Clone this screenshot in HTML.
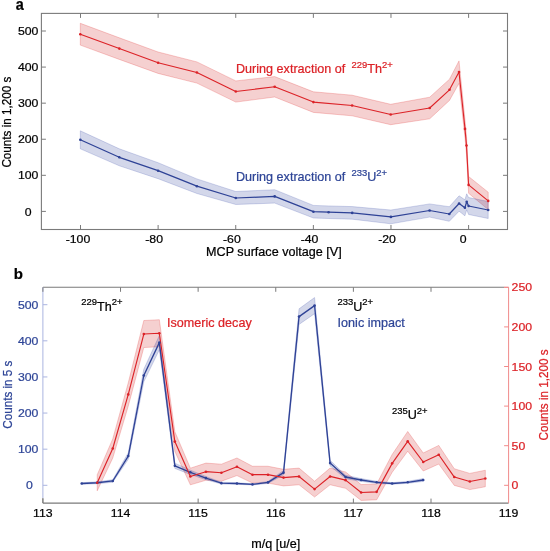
<!DOCTYPE html>
<html><head><meta charset="utf-8"><style>
html,body{margin:0;padding:0;background:#fff;}
body{width:550px;height:551px;overflow:hidden;}
svg{display:block;font-family:"Liberation Sans",sans-serif;filter:blur(0.3px);}
</style></head><body>
<svg width="550" height="551" viewBox="0 0 550 551">
<rect width="550" height="551" fill="#fff"/>
<polygon points="80.30,23.30 119.30,37.80 158.10,52.00 196.90,61.90 235.80,80.90 274.70,76.60 313.40,91.80 352.10,95.20 390.70,104.30 429.70,97.20 449.50,79.20 459.00,60.90 465.00,119.90 466.50,136.50 468.60,176.50 488.20,192.20 488.20,209.60 468.60,193.30 466.50,154.50 465.00,137.90 459.00,83.30 449.50,100.40 429.70,118.80 390.70,124.70 352.10,115.80 313.40,112.40 274.70,97.00 235.80,102.10 196.90,83.10 158.10,73.40 119.30,59.40 80.30,45.10" fill="rgba(210,41,41,0.22)" stroke="rgba(225,30,30,0.38)" stroke-width="0.6"/>
<polygon points="80.30,130.80 119.30,148.80 158.10,162.70 196.90,178.90 235.80,191.50 274.70,189.70 313.40,205.40 328.60,205.90 352.20,206.60 390.90,210.00 429.60,203.90 449.30,206.70 459.10,195.80 464.90,199.80 466.70,193.80 468.60,197.50 488.20,201.50 488.20,218.50 468.60,214.50 466.70,209.80 464.90,215.80 459.10,211.20 449.30,221.30 429.60,217.10 390.90,223.80 352.20,219.20 328.60,218.50 313.40,218.00 274.70,203.10 235.80,204.50 196.90,193.50 158.10,178.70 119.30,165.80 80.30,148.80" fill="rgba(35,55,150,0.2)" stroke="rgba(35,55,160,0.32)" stroke-width="0.6"/>
<polyline points="80.30,34.20 119.30,48.60 158.10,62.70 196.90,72.50 235.80,91.50 274.70,86.80 313.40,102.10 352.10,105.50 390.70,114.50 429.70,108.00 449.50,89.80 459.00,72.10 465.00,128.90 466.50,145.50 468.60,184.90 488.20,200.90" fill="none" stroke="#dc2227" stroke-width="1.1" stroke-linejoin="round"/>
<polyline points="80.30,139.80 119.30,157.30 158.10,170.70 196.90,186.20 235.80,198.00 274.70,196.40 313.40,211.70 328.60,212.20 352.20,212.90 390.90,216.90 429.60,210.50 449.30,214.00 459.10,203.50 464.90,207.80 466.70,201.80 468.60,206.00 488.20,210.00" fill="none" stroke="#2e4296" stroke-width="1.25" stroke-linejoin="round"/>
<circle cx="80.30" cy="34.20" r="1.3" fill="#dc2227"/>
<circle cx="119.30" cy="48.60" r="1.3" fill="#dc2227"/>
<circle cx="158.10" cy="62.70" r="1.3" fill="#dc2227"/>
<circle cx="196.90" cy="72.50" r="1.3" fill="#dc2227"/>
<circle cx="235.80" cy="91.50" r="1.3" fill="#dc2227"/>
<circle cx="274.70" cy="86.80" r="1.3" fill="#dc2227"/>
<circle cx="313.40" cy="102.10" r="1.3" fill="#dc2227"/>
<circle cx="352.10" cy="105.50" r="1.3" fill="#dc2227"/>
<circle cx="390.70" cy="114.50" r="1.3" fill="#dc2227"/>
<circle cx="429.70" cy="108.00" r="1.3" fill="#dc2227"/>
<circle cx="449.50" cy="89.80" r="1.3" fill="#dc2227"/>
<circle cx="459.00" cy="72.10" r="1.3" fill="#dc2227"/>
<circle cx="465.00" cy="128.90" r="1.3" fill="#dc2227"/>
<circle cx="466.50" cy="145.50" r="1.3" fill="#dc2227"/>
<circle cx="468.60" cy="184.90" r="1.3" fill="#dc2227"/>
<circle cx="488.20" cy="200.90" r="1.3" fill="#dc2227"/>
<circle cx="80.30" cy="139.80" r="1.3" fill="#2e4296"/>
<circle cx="119.30" cy="157.30" r="1.3" fill="#2e4296"/>
<circle cx="158.10" cy="170.70" r="1.3" fill="#2e4296"/>
<circle cx="196.90" cy="186.20" r="1.3" fill="#2e4296"/>
<circle cx="235.80" cy="198.00" r="1.3" fill="#2e4296"/>
<circle cx="274.70" cy="196.40" r="1.3" fill="#2e4296"/>
<circle cx="313.40" cy="211.70" r="1.3" fill="#2e4296"/>
<circle cx="328.60" cy="212.20" r="1.3" fill="#2e4296"/>
<circle cx="352.20" cy="212.90" r="1.3" fill="#2e4296"/>
<circle cx="390.90" cy="216.90" r="1.3" fill="#2e4296"/>
<circle cx="429.60" cy="210.50" r="1.3" fill="#2e4296"/>
<circle cx="449.30" cy="214.00" r="1.3" fill="#2e4296"/>
<circle cx="459.10" cy="203.50" r="1.3" fill="#2e4296"/>
<circle cx="464.90" cy="207.80" r="1.3" fill="#2e4296"/>
<circle cx="466.70" cy="201.80" r="1.3" fill="#2e4296"/>
<circle cx="468.60" cy="206.00" r="1.3" fill="#2e4296"/>
<circle cx="488.20" cy="210.00" r="1.3" fill="#2e4296"/>
<rect x="41.4" y="13.4" width="466.1" height="216.1" fill="none" stroke="#7a7a7a" stroke-width="1.1"/>
<line x1="80.50" y1="229.50" x2="80.50" y2="225.00" stroke="#7a7a7a" stroke-width="1"/>
<line x1="80.50" y1="13.40" x2="80.50" y2="17.90" stroke="#7a7a7a" stroke-width="1"/>
<line x1="158.12" y1="229.50" x2="158.12" y2="225.00" stroke="#7a7a7a" stroke-width="1"/>
<line x1="158.12" y1="13.40" x2="158.12" y2="17.90" stroke="#7a7a7a" stroke-width="1"/>
<line x1="235.74" y1="229.50" x2="235.74" y2="225.00" stroke="#7a7a7a" stroke-width="1"/>
<line x1="235.74" y1="13.40" x2="235.74" y2="17.90" stroke="#7a7a7a" stroke-width="1"/>
<line x1="313.36" y1="229.50" x2="313.36" y2="225.00" stroke="#7a7a7a" stroke-width="1"/>
<line x1="313.36" y1="13.40" x2="313.36" y2="17.90" stroke="#7a7a7a" stroke-width="1"/>
<line x1="390.98" y1="229.50" x2="390.98" y2="225.00" stroke="#7a7a7a" stroke-width="1"/>
<line x1="390.98" y1="13.40" x2="390.98" y2="17.90" stroke="#7a7a7a" stroke-width="1"/>
<line x1="468.60" y1="229.50" x2="468.60" y2="225.00" stroke="#7a7a7a" stroke-width="1"/>
<line x1="468.60" y1="13.40" x2="468.60" y2="17.90" stroke="#7a7a7a" stroke-width="1"/>
<line x1="41.40" y1="211.40" x2="45.90" y2="211.40" stroke="#7a7a7a" stroke-width="1"/>
<line x1="507.50" y1="211.40" x2="503.00" y2="211.40" stroke="#7a7a7a" stroke-width="1"/>
<line x1="41.40" y1="175.32" x2="45.90" y2="175.32" stroke="#7a7a7a" stroke-width="1"/>
<line x1="507.50" y1="175.32" x2="503.00" y2="175.32" stroke="#7a7a7a" stroke-width="1"/>
<line x1="41.40" y1="139.24" x2="45.90" y2="139.24" stroke="#7a7a7a" stroke-width="1"/>
<line x1="507.50" y1="139.24" x2="503.00" y2="139.24" stroke="#7a7a7a" stroke-width="1"/>
<line x1="41.40" y1="103.16" x2="45.90" y2="103.16" stroke="#7a7a7a" stroke-width="1"/>
<line x1="507.50" y1="103.16" x2="503.00" y2="103.16" stroke="#7a7a7a" stroke-width="1"/>
<line x1="41.40" y1="67.08" x2="45.90" y2="67.08" stroke="#7a7a7a" stroke-width="1"/>
<line x1="507.50" y1="67.08" x2="503.00" y2="67.08" stroke="#7a7a7a" stroke-width="1"/>
<line x1="41.40" y1="31.00" x2="45.90" y2="31.00" stroke="#7a7a7a" stroke-width="1"/>
<line x1="507.50" y1="31.00" x2="503.00" y2="31.00" stroke="#7a7a7a" stroke-width="1"/>
<text transform="translate(78.00,243.00) scale(1.05,1)" font-size="11.7" fill="#000" stroke="#000" stroke-width="0.22" text-anchor="middle" font-weight="normal">-100</text>
<text transform="translate(154.10,243.00) scale(1.05,1)" font-size="11.7" fill="#000" stroke="#000" stroke-width="0.22" text-anchor="middle" font-weight="normal">-80</text>
<text transform="translate(231.90,243.00) scale(1.05,1)" font-size="11.7" fill="#000" stroke="#000" stroke-width="0.22" text-anchor="middle" font-weight="normal">-60</text>
<text transform="translate(309.50,243.00) scale(1.05,1)" font-size="11.7" fill="#000" stroke="#000" stroke-width="0.22" text-anchor="middle" font-weight="normal">-40</text>
<text transform="translate(387.00,243.00) scale(1.05,1)" font-size="11.7" fill="#000" stroke="#000" stroke-width="0.22" text-anchor="middle" font-weight="normal">-20</text>
<text transform="translate(463.20,243.00) scale(1.05,1)" font-size="11.7" fill="#000" stroke="#000" stroke-width="0.22" text-anchor="middle" font-weight="normal">0</text>
<text transform="translate(28.20,215.50) scale(1.05,1)" font-size="11.7" fill="#000" stroke="#000" stroke-width="0.22" text-anchor="middle" font-weight="normal">0</text>
<text transform="translate(38.40,179.42) scale(1.05,1)" font-size="11.7" fill="#000" stroke="#000" stroke-width="0.22" text-anchor="end" font-weight="normal">100</text>
<text transform="translate(38.40,143.34) scale(1.05,1)" font-size="11.7" fill="#000" stroke="#000" stroke-width="0.22" text-anchor="end" font-weight="normal">200</text>
<text transform="translate(38.40,107.26) scale(1.05,1)" font-size="11.7" fill="#000" stroke="#000" stroke-width="0.22" text-anchor="end" font-weight="normal">300</text>
<text transform="translate(38.40,71.18) scale(1.05,1)" font-size="11.7" fill="#000" stroke="#000" stroke-width="0.22" text-anchor="end" font-weight="normal">400</text>
<text transform="translate(38.40,35.10) scale(1.05,1)" font-size="11.7" fill="#000" stroke="#000" stroke-width="0.22" text-anchor="end" font-weight="normal">500</text>
<text transform="translate(206.10,256.40) scale(1.05,1)" font-size="12.0" fill="#000" stroke="#000" stroke-width="0.22" text-anchor="start" font-weight="normal">MCP surface voltage [V]</text>
<text transform="translate(10.90,167.60) rotate(-90) scale(1,1.05)" font-size="11.7" fill="#000" stroke="#000" stroke-width="0.22" text-anchor="start" font-weight="normal">Counts in 1,200 s</text>
<text transform="translate(15.70,10.00) scale(0.9,1)" font-size="16" fill="#000" stroke="#000" stroke-width="0.22" text-anchor="start" font-weight="bold">a</text>
<text transform="translate(236.0,72.9) scale(1.05,1)" font-size="12.0" fill="#dc2227" stroke="#dc2227" stroke-width="0.22">During extraction of</text>
<text transform="translate(351.50,67.50) scale(1.05,1)" font-size="9.0" fill="#dc2227" stroke="#dc2227" stroke-width="0.22">229</text>
<text transform="translate(367.27,72.90) scale(1.05,1)" font-size="12.0" fill="#dc2227" stroke="#dc2227" stroke-width="0.22">Th</text>
<text transform="translate(381.97,67.50) scale(1.05,1)" font-size="9.0" fill="#dc2227" stroke="#dc2227" stroke-width="0.22">2+</text>
<text transform="translate(236.0,181.2) scale(1.05,1)" font-size="12.0" fill="#2e4597" stroke="#2e4597" stroke-width="0.22">During extraction of</text>
<text transform="translate(351.50,176.00) scale(1.05,1)" font-size="9.0" fill="#2e4597" stroke="#2e4597" stroke-width="0.22">233</text>
<text transform="translate(367.27,181.40) scale(1.05,1)" font-size="12.0" fill="#2e4597" stroke="#2e4597" stroke-width="0.22">U</text>
<text transform="translate(376.37,176.00) scale(1.05,1)" font-size="9.0" fill="#2e4597" stroke="#2e4597" stroke-width="0.22">2+</text>
<polygon points="97.23,474.72 112.76,438.89 128.28,382.77 143.81,320.52 159.33,319.70 174.85,431.71 190.38,468.16 205.90,463.10 221.43,464.18 236.95,457.97 252.47,466.25 268.00,466.25 283.52,469.32 299.05,468.08 314.57,481.18 330.09,468.08 345.62,471.98 361.14,484.59 376.67,483.95 392.19,454.41 407.71,431.47 423.24,453.01 438.76,445.40 454.29,468.74 469.81,473.39 485.33,470.24 485.33,486.74 469.81,489.61 454.29,485.38 438.76,464.05 423.24,471.02 407.71,451.22 392.19,472.31 376.67,499.79 361.14,500.43 345.62,488.33 330.09,484.78 314.57,497.02 299.05,484.78 283.52,485.91 268.00,483.12 252.47,483.12 236.95,475.57 221.43,481.23 205.90,480.25 190.38,484.86 174.85,451.45 159.33,346.77 143.81,347.54 128.28,405.99 112.76,458.06 97.23,490.81" fill="rgba(210,41,41,0.22)" stroke="rgba(225,30,30,0.38)" stroke-width="0.6"/>
<polygon points="81.71,482.69 97.23,481.82 112.76,479.71 128.28,452.79 143.81,369.20 159.33,335.45 174.85,463.14 190.38,470.13 205.90,476.46 221.43,482.25 236.95,482.69 252.47,483.83 268.00,481.39 283.52,470.52 299.05,308.81 314.57,297.55 330.09,460.25 345.62,475.26 361.14,478.61 376.67,481.26 392.19,482.69 407.71,481.26 423.24,478.61 423.24,481.38 407.71,483.34 392.19,484.30 376.67,483.34 361.14,481.38 345.62,478.72 330.09,465.92 314.57,313.66 299.05,324.43 283.52,474.79 268.00,483.43 252.47,484.97 236.95,484.30 221.43,484.02 205.90,479.69 190.38,474.46 174.85,468.45 159.33,349.80 143.81,381.79 128.28,459.29 112.76,482.22 97.23,483.73 81.71,484.30" fill="rgba(35,55,150,0.2)" stroke="rgba(35,55,160,0.32)" stroke-width="0.6"/>
<polyline points="81.71,483.49 97.23,482.77 112.76,480.97 128.28,456.04 143.81,375.50 159.33,342.63 174.85,465.80 190.38,472.30 205.90,478.08 221.43,483.13 236.95,483.49 252.47,484.40 268.00,482.41 283.52,472.66 299.05,316.62 314.57,305.60 330.09,463.09 345.62,476.99 361.14,479.99 376.67,482.30 392.19,483.49 407.71,482.30 423.24,479.99" fill="none" stroke="#2e4296" stroke-width="1.3" stroke-linejoin="round"/>
<polyline points="97.23,482.77 112.76,448.47 128.28,394.38 143.81,334.03 159.33,333.24 174.85,441.58 190.38,476.51 205.90,471.68 221.43,472.71 236.95,466.77 252.47,474.69 268.00,474.69 283.52,477.62 299.05,476.43 314.57,489.10 330.09,476.43 345.62,480.15 361.14,492.51 376.67,491.87 392.19,463.36 407.71,441.34 423.24,462.02 438.76,454.73 454.29,477.06 469.81,481.50 485.33,478.49" fill="none" stroke="#dc2227" stroke-width="1.15" stroke-linejoin="round"/>
<circle cx="81.71" cy="483.49" r="1.3" fill="#2e4296"/>
<circle cx="97.23" cy="482.77" r="1.3" fill="#2e4296"/>
<circle cx="112.76" cy="480.97" r="1.3" fill="#2e4296"/>
<circle cx="128.28" cy="456.04" r="1.3" fill="#2e4296"/>
<circle cx="143.81" cy="375.50" r="1.3" fill="#2e4296"/>
<circle cx="159.33" cy="342.63" r="1.3" fill="#2e4296"/>
<circle cx="174.85" cy="465.80" r="1.3" fill="#2e4296"/>
<circle cx="190.38" cy="472.30" r="1.3" fill="#2e4296"/>
<circle cx="205.90" cy="478.08" r="1.3" fill="#2e4296"/>
<circle cx="221.43" cy="483.13" r="1.3" fill="#2e4296"/>
<circle cx="236.95" cy="483.49" r="1.3" fill="#2e4296"/>
<circle cx="252.47" cy="484.40" r="1.3" fill="#2e4296"/>
<circle cx="268.00" cy="482.41" r="1.3" fill="#2e4296"/>
<circle cx="283.52" cy="472.66" r="1.3" fill="#2e4296"/>
<circle cx="299.05" cy="316.62" r="1.3" fill="#2e4296"/>
<circle cx="314.57" cy="305.60" r="1.3" fill="#2e4296"/>
<circle cx="330.09" cy="463.09" r="1.3" fill="#2e4296"/>
<circle cx="345.62" cy="476.99" r="1.3" fill="#2e4296"/>
<circle cx="361.14" cy="479.99" r="1.3" fill="#2e4296"/>
<circle cx="376.67" cy="482.30" r="1.3" fill="#2e4296"/>
<circle cx="392.19" cy="483.49" r="1.3" fill="#2e4296"/>
<circle cx="407.71" cy="482.30" r="1.3" fill="#2e4296"/>
<circle cx="423.24" cy="479.99" r="1.3" fill="#2e4296"/>
<circle cx="97.23" cy="482.77" r="1.3" fill="#dc2227"/>
<circle cx="112.76" cy="448.47" r="1.3" fill="#dc2227"/>
<circle cx="128.28" cy="394.38" r="1.3" fill="#dc2227"/>
<circle cx="143.81" cy="334.03" r="1.3" fill="#dc2227"/>
<circle cx="159.33" cy="333.24" r="1.3" fill="#dc2227"/>
<circle cx="174.85" cy="441.58" r="1.3" fill="#dc2227"/>
<circle cx="190.38" cy="476.51" r="1.3" fill="#dc2227"/>
<circle cx="205.90" cy="471.68" r="1.3" fill="#dc2227"/>
<circle cx="221.43" cy="472.71" r="1.3" fill="#dc2227"/>
<circle cx="236.95" cy="466.77" r="1.3" fill="#dc2227"/>
<circle cx="252.47" cy="474.69" r="1.3" fill="#dc2227"/>
<circle cx="268.00" cy="474.69" r="1.3" fill="#dc2227"/>
<circle cx="283.52" cy="477.62" r="1.3" fill="#dc2227"/>
<circle cx="299.05" cy="476.43" r="1.3" fill="#dc2227"/>
<circle cx="314.57" cy="489.10" r="1.3" fill="#dc2227"/>
<circle cx="330.09" cy="476.43" r="1.3" fill="#dc2227"/>
<circle cx="345.62" cy="480.15" r="1.3" fill="#dc2227"/>
<circle cx="361.14" cy="492.51" r="1.3" fill="#dc2227"/>
<circle cx="376.67" cy="491.87" r="1.3" fill="#dc2227"/>
<circle cx="392.19" cy="463.36" r="1.3" fill="#dc2227"/>
<circle cx="407.71" cy="441.34" r="1.3" fill="#dc2227"/>
<circle cx="423.24" cy="462.02" r="1.3" fill="#dc2227"/>
<circle cx="438.76" cy="454.73" r="1.3" fill="#dc2227"/>
<circle cx="454.29" cy="477.06" r="1.3" fill="#dc2227"/>
<circle cx="469.81" cy="481.50" r="1.3" fill="#dc2227"/>
<circle cx="485.33" cy="478.49" r="1.3" fill="#dc2227"/>
<line x1="42.90" y1="503.10" x2="508.60" y2="503.10" stroke="#7a7a7a" stroke-width="1.1"/>
<line x1="42.90" y1="287.30" x2="504.40" y2="287.30" stroke="#7a7a7a" stroke-width="1.1"/>
<line x1="504.40" y1="287.30" x2="508.60" y2="287.30" stroke="#f08a8a" stroke-width="1.0"/>
<line x1="42.90" y1="287.30" x2="42.90" y2="498.00" stroke="#aab4e0" stroke-width="1.0"/>
<line x1="42.90" y1="498.00" x2="42.90" y2="503.10" stroke="#7a7a7a" stroke-width="1.0"/>
<line x1="508.60" y1="287.30" x2="508.60" y2="503.10" stroke="#f08a8a" stroke-width="1.0"/>
<line x1="42.90" y1="503.10" x2="42.90" y2="498.60" stroke="#7a7a7a" stroke-width="1"/>
<line x1="42.90" y1="287.30" x2="42.90" y2="291.80" stroke="#7a7a7a" stroke-width="1"/>
<text transform="translate(42.90,516.70) scale(1.05,1)" font-size="11.7" fill="#000" stroke="#000" stroke-width="0.22" text-anchor="middle" font-weight="normal">113</text>
<line x1="120.52" y1="503.10" x2="120.52" y2="498.60" stroke="#7a7a7a" stroke-width="1"/>
<line x1="120.52" y1="287.30" x2="120.52" y2="291.80" stroke="#7a7a7a" stroke-width="1"/>
<text transform="translate(120.52,516.70) scale(1.05,1)" font-size="11.7" fill="#000" stroke="#000" stroke-width="0.22" text-anchor="middle" font-weight="normal">114</text>
<line x1="198.14" y1="503.10" x2="198.14" y2="498.60" stroke="#7a7a7a" stroke-width="1"/>
<line x1="198.14" y1="287.30" x2="198.14" y2="291.80" stroke="#7a7a7a" stroke-width="1"/>
<text transform="translate(198.14,516.70) scale(1.05,1)" font-size="11.7" fill="#000" stroke="#000" stroke-width="0.22" text-anchor="middle" font-weight="normal">115</text>
<line x1="275.76" y1="503.10" x2="275.76" y2="498.60" stroke="#7a7a7a" stroke-width="1"/>
<line x1="275.76" y1="287.30" x2="275.76" y2="291.80" stroke="#7a7a7a" stroke-width="1"/>
<text transform="translate(275.76,516.70) scale(1.05,1)" font-size="11.7" fill="#000" stroke="#000" stroke-width="0.22" text-anchor="middle" font-weight="normal">116</text>
<line x1="353.38" y1="503.10" x2="353.38" y2="498.60" stroke="#7a7a7a" stroke-width="1"/>
<line x1="353.38" y1="287.30" x2="353.38" y2="291.80" stroke="#7a7a7a" stroke-width="1"/>
<text transform="translate(353.38,516.70) scale(1.05,1)" font-size="11.7" fill="#000" stroke="#000" stroke-width="0.22" text-anchor="middle" font-weight="normal">117</text>
<line x1="431.00" y1="503.10" x2="431.00" y2="498.60" stroke="#7a7a7a" stroke-width="1"/>
<line x1="431.00" y1="287.30" x2="431.00" y2="291.80" stroke="#7a7a7a" stroke-width="1"/>
<text transform="translate(431.00,516.70) scale(1.05,1)" font-size="11.7" fill="#000" stroke="#000" stroke-width="0.22" text-anchor="middle" font-weight="normal">118</text>
<text transform="translate(508.62,516.70) scale(1.05,1)" font-size="11.7" fill="#000" stroke="#000" stroke-width="0.22" text-anchor="middle" font-weight="normal">119</text>
<line x1="42.90" y1="485.30" x2="47.40" y2="485.30" stroke="#aab4e0" stroke-width="1"/>
<text transform="translate(29.30,489.40) scale(1.05,1)" font-size="11.7" fill="#2e4597" stroke="#2e4597" stroke-width="0.22" text-anchor="middle" font-weight="normal">0</text>
<line x1="42.90" y1="449.18" x2="47.40" y2="449.18" stroke="#aab4e0" stroke-width="1"/>
<text transform="translate(38.40,453.28) scale(1.05,1)" font-size="11.7" fill="#2e4597" stroke="#2e4597" stroke-width="0.22" text-anchor="end" font-weight="normal">100</text>
<line x1="42.90" y1="413.06" x2="47.40" y2="413.06" stroke="#aab4e0" stroke-width="1"/>
<text transform="translate(38.40,417.16) scale(1.05,1)" font-size="11.7" fill="#2e4597" stroke="#2e4597" stroke-width="0.22" text-anchor="end" font-weight="normal">200</text>
<line x1="42.90" y1="376.94" x2="47.40" y2="376.94" stroke="#aab4e0" stroke-width="1"/>
<text transform="translate(38.40,381.04) scale(1.05,1)" font-size="11.7" fill="#2e4597" stroke="#2e4597" stroke-width="0.22" text-anchor="end" font-weight="normal">300</text>
<line x1="42.90" y1="340.82" x2="47.40" y2="340.82" stroke="#aab4e0" stroke-width="1"/>
<text transform="translate(38.40,344.92) scale(1.05,1)" font-size="11.7" fill="#2e4597" stroke="#2e4597" stroke-width="0.22" text-anchor="end" font-weight="normal">400</text>
<line x1="42.90" y1="304.70" x2="47.40" y2="304.70" stroke="#aab4e0" stroke-width="1"/>
<text transform="translate(38.40,308.80) scale(1.05,1)" font-size="11.7" fill="#2e4597" stroke="#2e4597" stroke-width="0.22" text-anchor="end" font-weight="normal">500</text>
<line x1="508.60" y1="485.30" x2="504.10" y2="485.30" stroke="#f08a8a" stroke-width="1"/>
<text transform="translate(511.60,489.40) scale(1.05,1)" font-size="11.7" fill="#dc2227" stroke="#dc2227" stroke-width="0.22" text-anchor="start" font-weight="normal">0</text>
<line x1="508.60" y1="445.70" x2="504.10" y2="445.70" stroke="#f08a8a" stroke-width="1"/>
<text transform="translate(511.60,449.80) scale(1.05,1)" font-size="11.7" fill="#dc2227" stroke="#dc2227" stroke-width="0.22" text-anchor="start" font-weight="normal">50</text>
<line x1="508.60" y1="406.10" x2="504.10" y2="406.10" stroke="#f08a8a" stroke-width="1"/>
<text transform="translate(511.60,410.20) scale(1.05,1)" font-size="11.7" fill="#dc2227" stroke="#dc2227" stroke-width="0.22" text-anchor="start" font-weight="normal">100</text>
<line x1="508.60" y1="366.50" x2="504.10" y2="366.50" stroke="#f08a8a" stroke-width="1"/>
<text transform="translate(511.60,370.60) scale(1.05,1)" font-size="11.7" fill="#dc2227" stroke="#dc2227" stroke-width="0.22" text-anchor="start" font-weight="normal">150</text>
<line x1="508.60" y1="326.90" x2="504.10" y2="326.90" stroke="#f08a8a" stroke-width="1"/>
<text transform="translate(511.60,331.00) scale(1.05,1)" font-size="11.7" fill="#dc2227" stroke="#dc2227" stroke-width="0.22" text-anchor="start" font-weight="normal">200</text>
<line x1="508.60" y1="287.30" x2="504.10" y2="287.30" stroke="#f08a8a" stroke-width="1"/>
<text transform="translate(511.60,291.40) scale(1.05,1)" font-size="11.7" fill="#dc2227" stroke="#dc2227" stroke-width="0.22" text-anchor="start" font-weight="normal">250</text>
<text transform="translate(251.30,547.70) scale(1.05,1)" font-size="12.0" fill="#000" stroke="#000" stroke-width="0.22" text-anchor="start" font-weight="normal">m/q [u/e]</text>
<text transform="translate(12.30,428.80) rotate(-90) scale(1,1.05)" font-size="11.7" fill="#2e4597" stroke="#2e4597" stroke-width="0.22" text-anchor="start" font-weight="normal">Counts in 5 s</text>
<text transform="translate(548.00,440.40) rotate(-90) scale(1,1.05)" font-size="11.7" fill="#dc2227" stroke="#dc2227" stroke-width="0.22" text-anchor="start" font-weight="normal">Counts in 1,200 s</text>
<text transform="translate(13.70,279.00) scale(1.0,1)" font-size="15" fill="#000" stroke="#000" stroke-width="0.22" text-anchor="start" font-weight="bold">b</text>
<text transform="translate(81.30,305.10) scale(1.05,1)" font-size="9.0" fill="#000" stroke="#000" stroke-width="0.22">229</text>
<text transform="translate(97.07,310.50) scale(1.05,1)" font-size="12.0" fill="#000" stroke="#000" stroke-width="0.22">Th</text>
<text transform="translate(111.77,305.10) scale(1.05,1)" font-size="9.0" fill="#000" stroke="#000" stroke-width="0.22">2+</text>
<text transform="translate(167.0,326.9) scale(1.05,1)" font-size="12.0" fill="#dc2227" stroke="#dc2227" stroke-width="0.22">Isomeric decay</text>
<text transform="translate(337.40,305.10) scale(1.05,1)" font-size="9.0" fill="#000" stroke="#000" stroke-width="0.22">233</text>
<text transform="translate(353.17,310.50) scale(1.05,1)" font-size="12.0" fill="#000" stroke="#000" stroke-width="0.22">U</text>
<text transform="translate(362.27,305.10) scale(1.05,1)" font-size="9.0" fill="#000" stroke="#000" stroke-width="0.22">2+</text>
<text transform="translate(337.6,326.8) scale(1.05,1)" font-size="12.0" fill="#2e4597" stroke="#2e4597" stroke-width="0.22">Ionic impact</text>
<text transform="translate(391.90,413.50) scale(1.05,1)" font-size="9.0" fill="#000" stroke="#000" stroke-width="0.22">235</text>
<text transform="translate(407.67,418.90) scale(1.05,1)" font-size="12.0" fill="#000" stroke="#000" stroke-width="0.22">U</text>
<text transform="translate(416.77,413.50) scale(1.05,1)" font-size="9.0" fill="#000" stroke="#000" stroke-width="0.22">2+</text>
</svg>
</body></html>
